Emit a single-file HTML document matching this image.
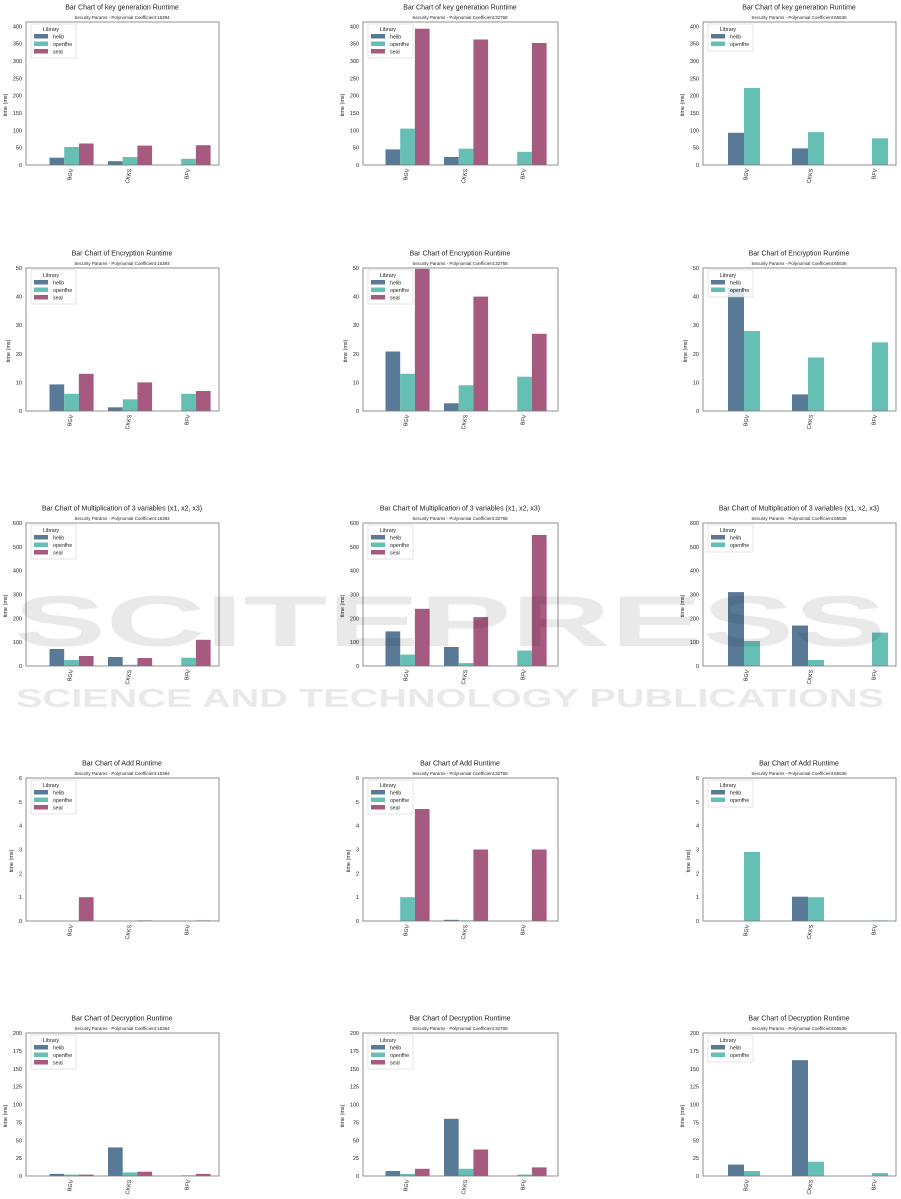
<!DOCTYPE html>
<html><head><meta charset="utf-8"><style>
body{margin:0;background:#fff}
svg{display:block}
text{font-family:"Liberation Sans","DejaVu Sans",sans-serif;fill:#222}
.t{font-size:7px;text-anchor:middle}
.st{font-size:4.5px;text-anchor:middle}
.yt{font-size:5.5px;text-anchor:end}
.xl{font-size:5.5px;text-anchor:end}
.lg{font-size:5.3px}
.ax{fill:none;stroke:#777;stroke-width:.8}
.h{fill:#587a96}.o{fill:#66bfb5}.s{fill:#a65a80}
.leg{fill:#fff;stroke:#ccc;stroke-width:.5}
.wm{font-weight:bold;fill:#000;fill-opacity:.085}
</style></head><body>
<svg width="901" height="1199" viewBox="0 0 901 1199" xmlns="http://www.w3.org/2000/svg">
<rect width="901" height="1199" fill="#fff"/>

<!-- ROW 1 -->
<g transform="translate(26,22)">
<text class="t" x="96" y="-12.5">Bar Chart of key generation  Runtime</text>
<text class="st" x="96" y="-3">Security Params - Polynomial Coefficient:16384</text>
<rect class="h" x="23.5" y="135.7" width="14.7" height="7.3"/><rect class="o" x="38.2" y="125" width="14.7" height="18"/><rect class="s" x="52.9" y="121.5" width="14.7" height="21.5"/>
<rect class="h" x="82" y="139.2" width="14.7" height="3.8"/><rect class="o" x="96.7" y="135" width="14.7" height="8"/><rect class="s" x="111.4" y="123.6" width="14.7" height="19.4"/>
<rect class="o" x="155.2" y="136.8" width="14.7" height="6.2"/><rect class="s" x="169.9" y="123.2" width="14.7" height="19.8"/>
<rect class="ax" width="193" height="143"/>
<rect class="leg" x="5" y="2" width="45" height="34"/><text class="lg" x="25" y="9" text-anchor="middle">Library</text>
<rect class="h" x="8" y="12" width="14" height="4.5"/><text class="lg" x="27" y="16.5">helib</text>
<rect class="o" x="8" y="19.5" width="14" height="4.5"/><text class="lg" x="27" y="24">openfhe</text>
<rect class="s" x="8" y="27" width="14" height="4.5"/><text class="lg" x="27" y="31.5">seal</text>
<text class="yt" x="-4" y="145">0</text><text class="yt" x="-4" y="127.7">50</text><text class="yt" x="-4" y="110.3">100</text><text class="yt" x="-4" y="93">150</text><text class="yt" x="-4" y="75.7">200</text><text class="yt" x="-4" y="58.3">250</text><text class="yt" x="-4" y="41">300</text><text class="yt" x="-4" y="23.7">350</text><text class="yt" x="-4" y="6.3">400</text>
<text class="yt" transform="translate(-19,71.5) rotate(-90)" text-anchor="middle">time (ms)</text>
<text class="xl" transform="translate(47,147) rotate(-80)">BGV</text><text class="xl" transform="translate(105.5,147) rotate(-80)">CKKS</text><text class="xl" transform="translate(164,147) rotate(-80)">BFV</text>
</g>

<g transform="translate(363,22)">
<text class="t" x="97" y="-12.5">Bar Chart of key generation  Runtime</text>
<text class="st" x="97" y="-3">Security Params - Polynomial Coefficient:32768</text>
<rect class="h" x="22.5" y="127.4" width="14.7" height="15.6"/><rect class="o" x="37.2" y="106.6" width="14.7" height="36.4"/><rect class="s" x="51.9" y="6.7" width="14.7" height="136.3"/>
<rect class="h" x="81" y="135" width="14.7" height="8"/><rect class="o" x="95.7" y="126.7" width="14.7" height="16.3"/><rect class="s" x="110.4" y="17.5" width="14.7" height="125.5"/>
<rect class="o" x="154.2" y="129.8" width="14.7" height="13.2"/><rect class="s" x="168.9" y="21" width="14.7" height="122"/>
<rect class="ax" width="195" height="143"/>
<rect class="leg" x="5" y="2" width="45" height="34"/><text class="lg" x="25" y="9" text-anchor="middle">Library</text>
<rect class="h" x="8" y="12" width="14" height="4.5"/><text class="lg" x="27" y="16.5">helib</text>
<rect class="o" x="8" y="19.5" width="14" height="4.5"/><text class="lg" x="27" y="24">openfhe</text>
<rect class="s" x="8" y="27" width="14" height="4.5"/><text class="lg" x="27" y="31.5">seal</text>
<text class="yt" x="-4" y="145">0</text><text class="yt" x="-4" y="127.7">50</text><text class="yt" x="-4" y="110.3">100</text><text class="yt" x="-4" y="93">150</text><text class="yt" x="-4" y="75.7">200</text><text class="yt" x="-4" y="58.3">250</text><text class="yt" x="-4" y="41">300</text><text class="yt" x="-4" y="23.7">350</text><text class="yt" x="-4" y="6.3">400</text>
<text class="yt" transform="translate(-19,71.5) rotate(-90)" text-anchor="middle">time (ms)</text>
<text class="xl" transform="translate(46,147) rotate(-80)">BGV</text><text class="xl" transform="translate(104.5,147) rotate(-80)">CKKS</text><text class="xl" transform="translate(163,147) rotate(-80)">BFV</text>
</g>

<g transform="translate(703,22)">
<text class="t" x="96" y="-12.5">Bar Chart of key generation  Runtime</text>
<text class="st" x="96" y="-3">Security Params - Polynomial Coefficient:65536</text>
<rect class="h" x="25" y="110.8" width="16" height="32.2"/><rect class="o" x="41" y="66" width="16" height="77"/>
<rect class="h" x="89" y="126.4" width="16" height="16.6"/><rect class="o" x="105" y="110.1" width="16" height="32.9"/>
<rect class="o" x="169" y="116.3" width="16" height="26.7"/>
<rect class="ax" width="193" height="143"/>
<rect class="leg" x="5" y="2" width="45" height="27"/><text class="lg" x="25" y="9" text-anchor="middle">Library</text>
<rect class="h" x="8" y="12" width="14" height="4.5"/><text class="lg" x="27" y="16.5">helib</text>
<rect class="o" x="8" y="19.5" width="14" height="4.5"/><text class="lg" x="27" y="24">openfhe</text>
<text class="yt" x="-4" y="145">0</text><text class="yt" x="-4" y="127.7">50</text><text class="yt" x="-4" y="110.3">100</text><text class="yt" x="-4" y="93">150</text><text class="yt" x="-4" y="75.7">200</text><text class="yt" x="-4" y="58.3">250</text><text class="yt" x="-4" y="41">300</text><text class="yt" x="-4" y="23.7">350</text><text class="yt" x="-4" y="6.3">400</text>
<text class="yt" transform="translate(-19,71.5) rotate(-90)" text-anchor="middle">time (ms)</text>
<text class="xl" transform="translate(46,147) rotate(-80)">BGV</text><text class="xl" transform="translate(110,147) rotate(-80)">CKKS</text><text class="xl" transform="translate(174,147) rotate(-80)">BFV</text>
</g>

<!-- ROW 2 -->
<g transform="translate(26,268)">
<text class="t" x="96" y="-12.5">Bar Chart of Encryption Runtime</text>
<text class="st" x="96" y="-3">Security Params - Polynomial Coefficient:16384</text>
<rect class="h" x="23.5" y="116.4" width="14.7" height="26.6"/><rect class="o" x="38.2" y="125.8" width="14.7" height="17.2"/><rect class="s" x="52.9" y="105.8" width="14.7" height="37.2"/>
<rect class="h" x="82" y="139.3" width="14.7" height="3.7"/><rect class="o" x="96.7" y="131.3" width="14.7" height="11.7"/><rect class="s" x="111.4" y="114.4" width="14.7" height="28.6"/>
<rect class="o" x="155.2" y="125.8" width="14.7" height="17.2"/><rect class="s" x="169.9" y="123" width="14.7" height="20"/>
<rect class="ax" width="193" height="143"/>
<rect class="leg" x="5" y="2" width="45" height="34"/><text class="lg" x="25" y="9" text-anchor="middle">Library</text>
<rect class="h" x="8" y="12" width="14" height="4.5"/><text class="lg" x="27" y="16.5">helib</text>
<rect class="o" x="8" y="19.5" width="14" height="4.5"/><text class="lg" x="27" y="24">openfhe</text>
<rect class="s" x="8" y="27" width="14" height="4.5"/><text class="lg" x="27" y="31.5">seal</text>
<text class="yt" x="-4" y="145">0</text><text class="yt" x="-4" y="116.4">10</text><text class="yt" x="-4" y="87.8">20</text><text class="yt" x="-4" y="59.2">30</text><text class="yt" x="-4" y="30.6">40</text><text class="yt" x="-4" y="2">50</text>
<text class="yt" transform="translate(-16,71.5) rotate(-90)" text-anchor="middle">time (ms)</text>
<text class="xl" transform="translate(47,147) rotate(-80)">BGV</text><text class="xl" transform="translate(105.5,147) rotate(-80)">CKKS</text><text class="xl" transform="translate(164,147) rotate(-80)">BFV</text>
</g>

<g transform="translate(363,268)">
<text class="t" x="97" y="-12.5">Bar Chart of Encryption Runtime</text>
<text class="st" x="97" y="-3">Security Params - Polynomial Coefficient:32768</text>
<rect class="h" x="22.5" y="83.5" width="14.7" height="59.5"/><rect class="o" x="37.2" y="105.8" width="14.7" height="37.2"/><rect class="s" x="51.9" y="0.9" width="14.7" height="142.1"/>
<rect class="h" x="81" y="135.3" width="14.7" height="7.7"/><rect class="o" x="95.7" y="117.3" width="14.7" height="25.7"/><rect class="s" x="110.4" y="28.6" width="14.7" height="114.4"/>
<rect class="o" x="154.2" y="108.7" width="14.7" height="34.3"/><rect class="s" x="168.9" y="65.8" width="14.7" height="77.2"/>
<rect class="ax" width="195" height="143"/>
<rect class="leg" x="5" y="2" width="45" height="34"/><text class="lg" x="25" y="9" text-anchor="middle">Library</text>
<rect class="h" x="8" y="12" width="14" height="4.5"/><text class="lg" x="27" y="16.5">helib</text>
<rect class="o" x="8" y="19.5" width="14" height="4.5"/><text class="lg" x="27" y="24">openfhe</text>
<rect class="s" x="8" y="27" width="14" height="4.5"/><text class="lg" x="27" y="31.5">seal</text>
<text class="yt" x="-4" y="145">0</text><text class="yt" x="-4" y="116.4">10</text><text class="yt" x="-4" y="87.8">20</text><text class="yt" x="-4" y="59.2">30</text><text class="yt" x="-4" y="30.6">40</text><text class="yt" x="-4" y="2">50</text>
<text class="yt" transform="translate(-16,71.5) rotate(-90)" text-anchor="middle">time (ms)</text>
<text class="xl" transform="translate(46,147) rotate(-80)">BGV</text><text class="xl" transform="translate(104.5,147) rotate(-80)">CKKS</text><text class="xl" transform="translate(163,147) rotate(-80)">BFV</text>
</g>

<g transform="translate(703,268)">
<text class="t" x="96" y="-12.5">Bar Chart of Encryption Runtime</text>
<text class="st" x="96" y="-3">Security Params - Polynomial Coefficient:65536</text>
<rect class="h" x="25" y="20" width="16" height="123"/><rect class="o" x="41" y="63" width="16" height="80"/>
<rect class="h" x="89" y="126.4" width="16" height="16.6"/><rect class="o" x="105" y="89.5" width="16" height="53.5"/>
<rect class="o" x="169" y="74.4" width="16" height="68.6"/>
<rect class="ax" width="193" height="143"/>
<rect class="leg" x="5" y="2" width="45" height="27" style="fill-opacity:.8"/><text class="lg" x="25" y="9" text-anchor="middle">Library</text>
<rect class="h" x="8" y="12" width="14" height="4.5"/><text class="lg" x="27" y="16.5">helib</text>
<rect class="o" x="8" y="19.5" width="14" height="4.5"/><text class="lg" x="27" y="24">openfhe</text>
<text class="yt" x="-4" y="145">0</text><text class="yt" x="-4" y="116.4">10</text><text class="yt" x="-4" y="87.8">20</text><text class="yt" x="-4" y="59.2">30</text><text class="yt" x="-4" y="30.6">40</text><text class="yt" x="-4" y="2">50</text>
<text class="yt" transform="translate(-16,71.5) rotate(-90)" text-anchor="middle">time (ms)</text>
<text class="xl" transform="translate(46,147) rotate(-80)">BGV</text><text class="xl" transform="translate(110,147) rotate(-80)">CKKS</text><text class="xl" transform="translate(174,147) rotate(-80)">BFV</text>
</g>

<!-- ROW 3 -->
<g transform="translate(26,523)">
<text class="t" x="96" y="-12.5">Bar Chart of Multiplication of 3 variables (x1, x2, x3)</text>
<text class="st" x="96" y="-3">Security Params - Polynomial Coefficient:16384</text>
<rect class="h" x="23.5" y="126" width="14.7" height="17"/><rect class="o" x="38.2" y="137" width="14.7" height="6"/><rect class="s" x="52.9" y="133" width="14.7" height="10"/>
<rect class="h" x="82" y="134" width="14.7" height="9"/><rect class="o" x="96.7" y="141.8" width="14.7" height="1.2"/><rect class="s" x="111.4" y="135" width="14.7" height="8"/>
<rect class="o" x="155.2" y="134.7" width="14.7" height="8.3"/><rect class="s" x="169.9" y="116.8" width="14.7" height="26.2"/>
<rect class="ax" width="193" height="143"/>
<rect class="leg" x="5" y="2" width="45" height="34"/><text class="lg" x="25" y="9" text-anchor="middle">Library</text>
<rect class="h" x="8" y="12" width="14" height="4.5"/><text class="lg" x="27" y="16.5">helib</text>
<rect class="o" x="8" y="19.5" width="14" height="4.5"/><text class="lg" x="27" y="24">openfhe</text>
<rect class="s" x="8" y="27" width="14" height="4.5"/><text class="lg" x="27" y="31.5">seal</text>
<text class="yt" x="-4" y="145">0</text><text class="yt" x="-4" y="121.2">100</text><text class="yt" x="-4" y="97.3">200</text><text class="yt" x="-4" y="73.5">300</text><text class="yt" x="-4" y="49.7">400</text><text class="yt" x="-4" y="25.8">500</text><text class="yt" x="-4" y="2">600</text>
<text class="yt" transform="translate(-19,71.5) rotate(-90)" text-anchor="middle">time (ms)</text>
<text class="xl" transform="translate(47,147) rotate(-80)">BGV</text><text class="xl" transform="translate(105.5,147) rotate(-80)">CKKS</text><text class="xl" transform="translate(164,147) rotate(-80)">BFV</text>
</g>

<g transform="translate(363,523)">
<text class="t" x="97" y="-12.5">Bar Chart of Multiplication of 3 variables (x1, x2, x3)</text>
<text class="st" x="97" y="-3">Security Params - Polynomial Coefficient:32768</text>
<rect class="h" x="22.5" y="108.4" width="14.7" height="34.6"/><rect class="o" x="37.2" y="131.6" width="14.7" height="11.4"/><rect class="s" x="51.9" y="85.8" width="14.7" height="57.2"/>
<rect class="h" x="81" y="124" width="14.7" height="19"/><rect class="o" x="95.7" y="140.1" width="14.7" height="2.9"/><rect class="s" x="110.4" y="94.1" width="14.7" height="48.9"/>
<rect class="o" x="154.2" y="127.5" width="14.7" height="15.5"/><rect class="s" x="168.9" y="12" width="14.7" height="131"/>
<rect class="ax" width="195" height="143"/>
<rect class="leg" x="5" y="2" width="45" height="34"/><text class="lg" x="25" y="9" text-anchor="middle">Library</text>
<rect class="h" x="8" y="12" width="14" height="4.5"/><text class="lg" x="27" y="16.5">helib</text>
<rect class="o" x="8" y="19.5" width="14" height="4.5"/><text class="lg" x="27" y="24">openfhe</text>
<rect class="s" x="8" y="27" width="14" height="4.5"/><text class="lg" x="27" y="31.5">seal</text>
<text class="yt" x="-4" y="145">0</text><text class="yt" x="-4" y="121.2">100</text><text class="yt" x="-4" y="97.3">200</text><text class="yt" x="-4" y="73.5">300</text><text class="yt" x="-4" y="49.7">400</text><text class="yt" x="-4" y="25.8">500</text><text class="yt" x="-4" y="2">600</text>
<text class="yt" transform="translate(-19,71.5) rotate(-90)" text-anchor="middle">time (ms)</text>
<text class="xl" transform="translate(46,147) rotate(-80)">BGV</text><text class="xl" transform="translate(104.5,147) rotate(-80)">CKKS</text><text class="xl" transform="translate(163,147) rotate(-80)">BFV</text>
</g>

<g transform="translate(703,523)">
<text class="t" x="96" y="-12.5">Bar Chart of Multiplication of 3 variables (x1, x2, x3)</text>
<text class="st" x="96" y="-3">Security Params - Polynomial Coefficient:65536</text>
<rect class="h" x="25" y="69.1" width="16" height="73.9"/><rect class="o" x="41" y="118" width="16" height="25"/>
<rect class="h" x="89" y="102.5" width="16" height="40.5"/><rect class="o" x="105" y="137" width="16" height="6"/>
<rect class="o" x="169" y="109.6" width="16" height="33.4"/>
<rect class="ax" width="193" height="143"/>
<rect class="leg" x="5" y="2" width="45" height="27"/><text class="lg" x="25" y="9" text-anchor="middle">Library</text>
<rect class="h" x="8" y="12" width="14" height="4.5"/><text class="lg" x="27" y="16.5">helib</text>
<rect class="o" x="8" y="19.5" width="14" height="4.5"/><text class="lg" x="27" y="24">openfhe</text>
<text class="yt" x="-4" y="145">0</text><text class="yt" x="-4" y="121.2">100</text><text class="yt" x="-4" y="97.3">200</text><text class="yt" x="-4" y="73.5">300</text><text class="yt" x="-4" y="49.7">400</text><text class="yt" x="-4" y="25.8">500</text><text class="yt" x="-4" y="2">600</text>
<text class="yt" transform="translate(-19,71.5) rotate(-90)" text-anchor="middle">time (ms)</text>
<text class="xl" transform="translate(46,147) rotate(-80)">BGV</text><text class="xl" transform="translate(110,147) rotate(-80)">CKKS</text><text class="xl" transform="translate(174,147) rotate(-80)">BFV</text>
</g>

<!-- ROW 4 -->
<g transform="translate(26,778)">
<text class="t" x="96" y="-12.5">Bar Chart of Add Runtime</text>
<text class="st" x="96" y="-3">Security Params - Polynomial Coefficient:16384</text>
<rect class="s" x="52.9" y="119.2" width="14.7" height="23.8"/>
<rect class="s" x="111.4" y="142.4" width="14.7" height="0.6"/>
<rect class="s" x="169.9" y="142.4" width="14.7" height="0.6"/>
<rect class="ax" width="193" height="143"/>
<rect class="leg" x="5" y="2" width="45" height="34"/><text class="lg" x="25" y="9" text-anchor="middle">Library</text>
<rect class="h" x="8" y="12" width="14" height="4.5"/><text class="lg" x="27" y="16.5">helib</text>
<rect class="o" x="8" y="19.5" width="14" height="4.5"/><text class="lg" x="27" y="24">openfhe</text>
<rect class="s" x="8" y="27" width="14" height="4.5"/><text class="lg" x="27" y="31.5">seal</text>
<text class="yt" x="-4" y="145">0</text><text class="yt" x="-4" y="121.2">1</text><text class="yt" x="-4" y="97.3">2</text><text class="yt" x="-4" y="73.5">3</text><text class="yt" x="-4" y="49.7">4</text><text class="yt" x="-4" y="25.8">5</text><text class="yt" x="-4" y="2">6</text>
<text class="yt" transform="translate(-13,71.5) rotate(-90)" text-anchor="middle">time (ms)</text>
<text class="xl" transform="translate(47,147) rotate(-80)">BGV</text><text class="xl" transform="translate(105.5,147) rotate(-80)">CKKS</text><text class="xl" transform="translate(164,147) rotate(-80)">BFV</text>
</g>

<g transform="translate(363,778)">
<text class="t" x="97" y="-12.5">Bar Chart of Add Runtime</text>
<text class="st" x="97" y="-3">Security Params - Polynomial Coefficient:32768</text>
<rect class="o" x="37.2" y="119.2" width="14.7" height="23.8"/><rect class="s" x="51.9" y="31" width="14.7" height="112"/>
<rect class="h" x="81" y="141.8" width="14.7" height="1.2"/><rect class="o" x="95.7" y="142.4" width="14.7" height="0.6"/><rect class="s" x="110.4" y="71.5" width="14.7" height="71.5"/>
<rect class="s" x="168.9" y="71.5" width="14.7" height="71.5"/>
<rect class="ax" width="195" height="143"/>
<rect class="leg" x="5" y="2" width="45" height="34"/><text class="lg" x="25" y="9" text-anchor="middle">Library</text>
<rect class="h" x="8" y="12" width="14" height="4.5"/><text class="lg" x="27" y="16.5">helib</text>
<rect class="o" x="8" y="19.5" width="14" height="4.5"/><text class="lg" x="27" y="24">openfhe</text>
<rect class="s" x="8" y="27" width="14" height="4.5"/><text class="lg" x="27" y="31.5">seal</text>
<text class="yt" x="-4" y="145">0</text><text class="yt" x="-4" y="121.2">1</text><text class="yt" x="-4" y="97.3">2</text><text class="yt" x="-4" y="73.5">3</text><text class="yt" x="-4" y="49.7">4</text><text class="yt" x="-4" y="25.8">5</text><text class="yt" x="-4" y="2">6</text>
<text class="yt" transform="translate(-13,71.5) rotate(-90)" text-anchor="middle">time (ms)</text>
<text class="xl" transform="translate(46,147) rotate(-80)">BGV</text><text class="xl" transform="translate(104.5,147) rotate(-80)">CKKS</text><text class="xl" transform="translate(163,147) rotate(-80)">BFV</text>
</g>

<g transform="translate(703,778)">
<text class="t" x="96" y="-12.5">Bar Chart of Add Runtime</text>
<text class="st" x="96" y="-3">Security Params - Polynomial Coefficient:65536</text>
<rect class="o" x="41" y="74" width="16" height="69"/>
<rect class="h" x="89" y="118.7" width="16" height="24.3"/><rect class="o" x="105" y="119.2" width="16" height="23.8"/>
<rect class="o" x="169" y="142.4" width="16" height="0.6"/>
<rect class="ax" width="193" height="143"/>
<rect class="leg" x="5" y="2" width="45" height="27"/><text class="lg" x="25" y="9" text-anchor="middle">Library</text>
<rect class="h" x="8" y="12" width="14" height="4.5"/><text class="lg" x="27" y="16.5">helib</text>
<rect class="o" x="8" y="19.5" width="14" height="4.5"/><text class="lg" x="27" y="24">openfhe</text>
<text class="yt" x="-4" y="145">0</text><text class="yt" x="-4" y="121.2">1</text><text class="yt" x="-4" y="97.3">2</text><text class="yt" x="-4" y="73.5">3</text><text class="yt" x="-4" y="49.7">4</text><text class="yt" x="-4" y="25.8">5</text><text class="yt" x="-4" y="2">6</text>
<text class="yt" transform="translate(-13,71.5) rotate(-90)" text-anchor="middle">time (ms)</text>
<text class="xl" transform="translate(46,147) rotate(-80)">BGV</text><text class="xl" transform="translate(110,147) rotate(-80)">CKKS</text><text class="xl" transform="translate(174,147) rotate(-80)">BFV</text>
</g>

<!-- ROW 5 -->
<g transform="translate(26,1033)">
<text class="t" x="96" y="-12.5">Bar Chart of Decryption Runtime</text>
<text class="st" x="96" y="-3">Security Params - Polynomial Coefficient:16384</text>
<rect class="h" x="23.5" y="140.9" width="14.7" height="2.1"/><rect class="o" x="38.2" y="141.6" width="14.7" height="1.4"/><rect class="s" x="52.9" y="141.6" width="14.7" height="1.4"/>
<rect class="h" x="82" y="114.4" width="14.7" height="28.6"/><rect class="o" x="96.7" y="139.4" width="14.7" height="3.6"/><rect class="s" x="111.4" y="138.7" width="14.7" height="4.3"/>
<rect class="o" x="155.2" y="142.3" width="14.7" height="0.7"/><rect class="s" x="169.9" y="140.9" width="14.7" height="2.1"/>
<rect class="ax" width="193" height="143"/>
<rect class="leg" x="5" y="2" width="45" height="34"/><text class="lg" x="25" y="9" text-anchor="middle">Library</text>
<rect class="h" x="8" y="12" width="14" height="4.5"/><text class="lg" x="27" y="16.5">helib</text>
<rect class="o" x="8" y="19.5" width="14" height="4.5"/><text class="lg" x="27" y="24">openfhe</text>
<rect class="s" x="8" y="27" width="14" height="4.5"/><text class="lg" x="27" y="31.5">seal</text>
<text class="yt" x="-4" y="145">0</text><text class="yt" x="-4" y="127.1">25</text><text class="yt" x="-4" y="109.3">50</text><text class="yt" x="-4" y="91.4">75</text><text class="yt" x="-4" y="73.5">100</text><text class="yt" x="-4" y="55.6">125</text><text class="yt" x="-4" y="37.8">150</text><text class="yt" x="-4" y="19.9">175</text><text class="yt" x="-4" y="2">200</text>
<text class="yt" transform="translate(-19,71.5) rotate(-90)" text-anchor="middle">time (ms)</text>
<text class="xl" transform="translate(47,147) rotate(-80)">BGV</text><text class="xl" transform="translate(105.5,147) rotate(-80)">CKKS</text><text class="xl" transform="translate(164,147) rotate(-80)">BFV</text>
</g>

<g transform="translate(363,1033)">
<text class="t" x="97" y="-12.5">Bar Chart of Decryption Runtime</text>
<text class="st" x="97" y="-3">Security Params - Polynomial Coefficient:32768</text>
<rect class="h" x="22.5" y="138" width="14.7" height="5"/><rect class="o" x="37.2" y="140.9" width="14.7" height="2.1"/><rect class="s" x="51.9" y="135.8" width="14.7" height="7.2"/>
<rect class="h" x="81" y="85.8" width="14.7" height="57.2"/><rect class="o" x="95.7" y="135.8" width="14.7" height="7.2"/><rect class="s" x="110.4" y="116.5" width="14.7" height="26.5"/>
<rect class="o" x="154.2" y="141.6" width="14.7" height="1.4"/><rect class="s" x="168.9" y="134.4" width="14.7" height="8.6"/>
<rect class="ax" width="195" height="143"/>
<rect class="leg" x="5" y="2" width="45" height="34"/><text class="lg" x="25" y="9" text-anchor="middle">Library</text>
<rect class="h" x="8" y="12" width="14" height="4.5"/><text class="lg" x="27" y="16.5">helib</text>
<rect class="o" x="8" y="19.5" width="14" height="4.5"/><text class="lg" x="27" y="24">openfhe</text>
<rect class="s" x="8" y="27" width="14" height="4.5"/><text class="lg" x="27" y="31.5">seal</text>
<text class="yt" x="-4" y="145">0</text><text class="yt" x="-4" y="127.1">25</text><text class="yt" x="-4" y="109.3">50</text><text class="yt" x="-4" y="91.4">75</text><text class="yt" x="-4" y="73.5">100</text><text class="yt" x="-4" y="55.6">125</text><text class="yt" x="-4" y="37.8">150</text><text class="yt" x="-4" y="19.9">175</text><text class="yt" x="-4" y="2">200</text>
<text class="yt" transform="translate(-19,71.5) rotate(-90)" text-anchor="middle">time (ms)</text>
<text class="xl" transform="translate(46,147) rotate(-80)">BGV</text><text class="xl" transform="translate(104.5,147) rotate(-80)">CKKS</text><text class="xl" transform="translate(163,147) rotate(-80)">BFV</text>
</g>

<g transform="translate(703,1033)">
<text class="t" x="96" y="-12.5">Bar Chart of Decryption Runtime</text>
<text class="st" x="96" y="-3">Security Params - Polynomial Coefficient:65536</text>
<rect class="h" x="25" y="131.6" width="16" height="11.4"/><rect class="o" x="41" y="138" width="16" height="5"/>
<rect class="h" x="89" y="27.2" width="16" height="115.8"/><rect class="o" x="105" y="128.7" width="16" height="14.3"/>
<rect class="o" x="169" y="140.1" width="16" height="2.9"/>
<rect class="ax" width="193" height="143"/>
<rect class="leg" x="5" y="2" width="45" height="27"/><text class="lg" x="25" y="9" text-anchor="middle">Library</text>
<rect class="h" x="8" y="12" width="14" height="4.5"/><text class="lg" x="27" y="16.5">helib</text>
<rect class="o" x="8" y="19.5" width="14" height="4.5"/><text class="lg" x="27" y="24">openfhe</text>
<text class="yt" x="-4" y="145">0</text><text class="yt" x="-4" y="127.1">25</text><text class="yt" x="-4" y="109.3">50</text><text class="yt" x="-4" y="91.4">75</text><text class="yt" x="-4" y="73.5">100</text><text class="yt" x="-4" y="55.6">125</text><text class="yt" x="-4" y="37.8">150</text><text class="yt" x="-4" y="19.9">175</text><text class="yt" x="-4" y="2">200</text>
<text class="yt" transform="translate(-19,71.5) rotate(-90)" text-anchor="middle">time (ms)</text>
<text class="xl" transform="translate(46,147) rotate(-80)">BGV</text><text class="xl" transform="translate(110,147) rotate(-80)">CKKS</text><text class="xl" transform="translate(174,147) rotate(-80)">BFV</text>
</g>

<!-- watermark -->
<text class="wm" x="14" y="646" font-size="72" textLength="872" lengthAdjust="spacingAndGlyphs">SCITEPRESS</text>
<text class="wm" x="16" y="707" font-size="26" textLength="868" lengthAdjust="spacingAndGlyphs">SCIENCE AND TECHNOLOGY PUBLICATIONS</text>
</svg>
</body></html>
